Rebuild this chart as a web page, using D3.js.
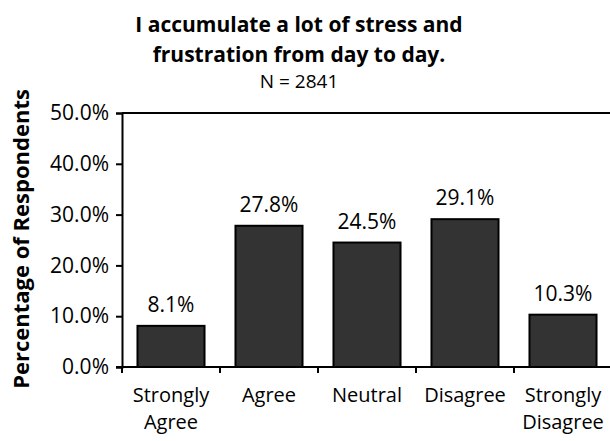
<!DOCTYPE html>
<html>
<head>
<meta charset="utf-8">
<script src="https://cdn.jsdelivr.net/npm/d3@7"></script>
<style>
  body { margin: 0; background: #fff; }
  text { font-family: "Open Sans", sans-serif; fill: #000; }
</style>
</head>
<body>
<div id="chart"></div>
<script>
// chart data
var categories = [["Strongly", "Agree"], ["Agree"], ["Neutral"], ["Disagree"], ["Strongly", "Disagree"]];
var values = [8.1, 27.8, 24.5, 29.1, 10.3];
var yTicks = [0, 10, 20, 30, 40, 50];
var titleLines = ["I accumulate a lot of stress and", "frustration from day to day."];
var subtitle = "N = 2841";
var yTitle = "Percentage of Respondents";

var width = 610, height = 441;
var plot = {left: 122, right: 612, top: 113, bottom: 367};

var svg = d3.select("#chart").append("svg")
    .attr("width", width)
    .attr("height", height);

var keys = categories.map(function(c) { return c.join(" "); });

var x = d3.scaleBand()
    .domain(keys)
    .range([plot.left, plot.right])
    .paddingInner(0.316)
    .paddingOuter(0.158);

var y = d3.scaleLinear()
    .domain([0, 50])
    .range([plot.bottom, plot.top]);

// title
svg.selectAll(".title").data(titleLines).enter().append("text")
    .attr("class", "title")
    .attr("x", 299)
    .attr("y", function(d, i) { return 32 + i * 30; })
    .attr("text-anchor", "middle")
    .style("font-size", "21px")
    .style("font-weight", "bold")
    .text(function(d) { return d; });

svg.append("text")
    .attr("x", 299)
    .attr("y", 88)
    .attr("text-anchor", "middle")
    .style("font-size", "19px")
    .text(subtitle);

// y axis title
svg.append("text")
    .attr("transform", "translate(29,239) rotate(-90)")
    .attr("text-anchor", "middle")
    .style("font-size", "22px")
    .style("font-weight", "bold")
    .text(yTitle);

// top border
svg.append("line")
    .attr("x1", plot.left).attr("x2", width)
    .attr("y1", y(50)).attr("y2", y(50))
    .attr("stroke", "#000").attr("stroke-width", 2);

// bars
svg.selectAll(".bar").data(values).enter().append("rect")
    .attr("class", "bar")
    .attr("x", function(d, i) { return x(keys[i]); })
    .attr("width", x.bandwidth())
    .attr("y", function(d) { return y(d); })
    .attr("height", function(d) { return y(0) - y(d); })
    .attr("fill", "#333333")
    .attr("stroke", "#000")
    .attr("stroke-width", 2);

// value labels
svg.selectAll(".val").data(values).enter().append("text")
    .attr("class", "val")
    .attr("x", function(d, i) { return x(keys[i]) + x.bandwidth() / 2; })
    .attr("y", function(d) { return y(d) - 14; })
    .attr("text-anchor", "middle")
    .style("font-size", "21px")
    .text(function(d) { return d.toFixed(1) + "%"; });

// y axis
var yAxis = svg.append("g")
    .attr("transform", "translate(" + plot.left + ",0)")
    .call(d3.axisLeft(y).tickValues(yTicks).tickSize(6).tickPadding(7)
        .tickFormat(function(d) { return d.toFixed(1) + "%"; }));
yAxis.select(".domain").attr("stroke-width", 2);
yAxis.selectAll(".tick line").attr("stroke-width", 2);
yAxis.selectAll(".tick text").style("font-size", "21px").style("font-family", "Open Sans, sans-serif");

// x axis baseline and boundary ticks
svg.append("line")
    .attr("x1", plot.left - 6).attr("x2", width)
    .attr("y1", y(0)).attr("y2", y(0))
    .attr("stroke", "#000").attr("stroke-width", 2);

var bounds = keys.map(function(k) { return x(k) - x.step() * x.paddingInner() / 2; });
svg.selectAll(".xtick").data(bounds).enter().append("line")
    .attr("x1", function(d) { return d; }).attr("x2", function(d) { return d; })
    .attr("y1", y(0)).attr("y2", y(0) + 6)
    .attr("stroke", "#000").attr("stroke-width", 2);

// category labels
var cat = svg.selectAll(".cat").data(categories).enter().append("text")
    .attr("class", "cat")
    .attr("x", function(d, i) { return x(keys[i]) + x.bandwidth() / 2; })
    .attr("y", 402)
    .attr("text-anchor", "middle")
    .style("font-size", "20px");
cat.selectAll("tspan").data(function(d) { return d; }).enter().append("tspan")
    .attr("x", function() { return d3.select(this.parentNode).attr("x"); })
    .attr("dy", function(d, i) { return i === 0 ? 0 : 27; })
    .text(function(d) { return d; });
</script>
</body>
</html>
